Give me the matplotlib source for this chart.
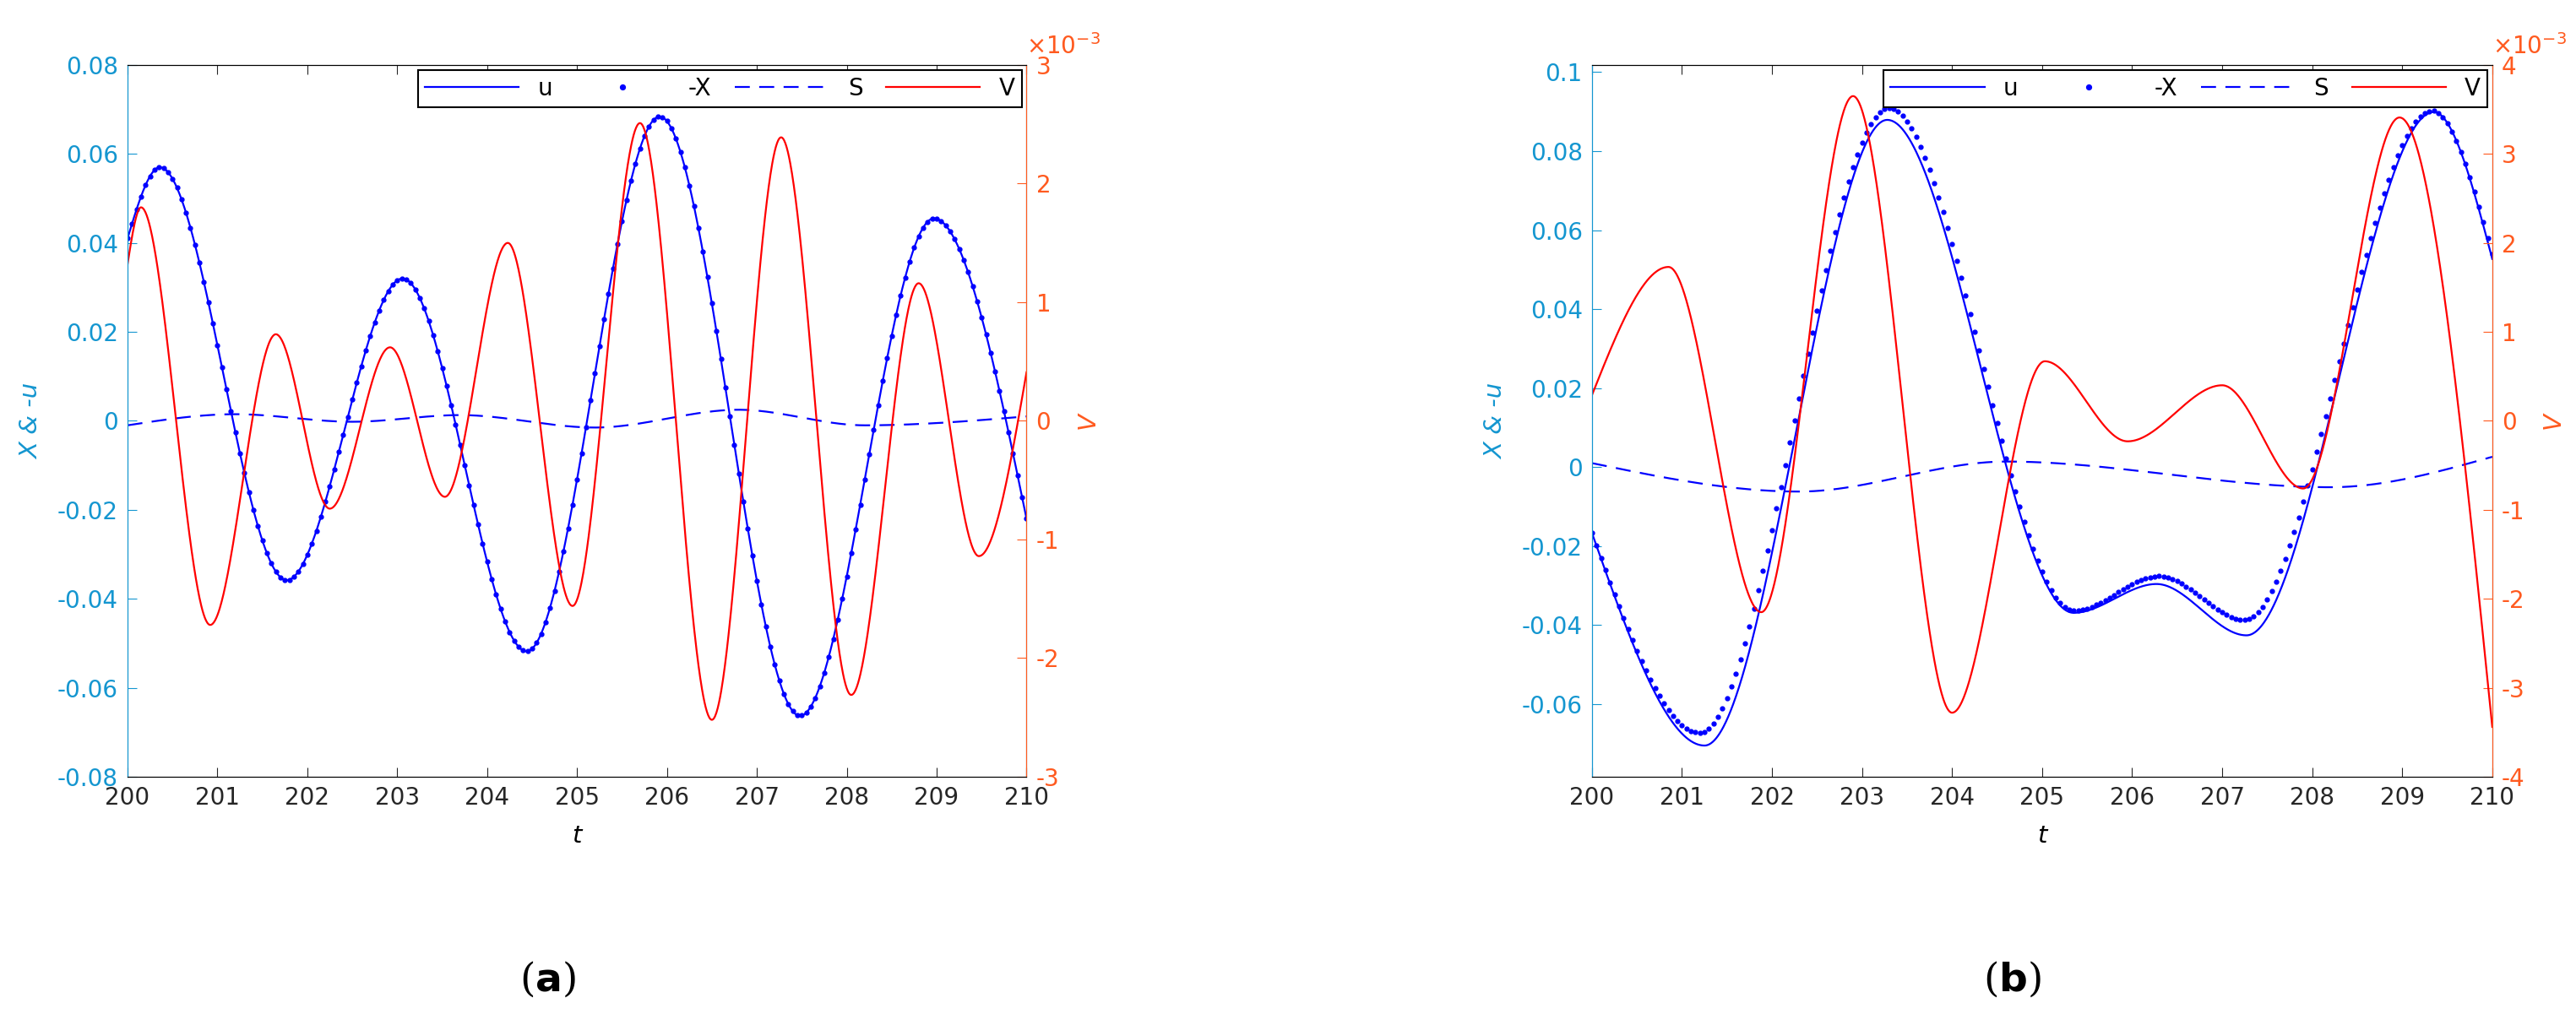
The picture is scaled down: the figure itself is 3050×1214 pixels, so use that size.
import numpy as np
import matplotlib
matplotlib.use("Agg")
import matplotlib.pyplot as plt

plt.rcParams['axes.unicode_minus'] = False

# ---- data: (t, value) key points (extrema / ends) ----
a_u_t = [200, 200.36, 201.77, 203.06, 204.44, 205.92, 207.48, 208.97, 210]
a_u_v = [0.041, 0.057, -0.0358, 0.032, -0.0518, 0.0684, -0.0663, 0.0455, -0.022]
a_x_t = a_u_t
a_x_v = a_u_v
a_s_t = [200, 201.2, 202.5, 203.7, 205.2, 206.8, 208.2, 210]
a_s_v = [-0.001, 0.0015, -0.0002, 0.0013, -0.0015, 0.0025, -0.001, 0.001]
a_v_t = [200, 200.15, 200.92, 201.65, 202.25, 202.92, 203.53, 204.23, 204.95,
         205.7, 206.5, 207.27, 208.05, 208.8, 209.47, 210]
a_v_v = [1.32, 1.8, -1.72, 0.73, -0.74, 0.62, -0.64, 1.5, -1.56,
         2.51, -2.52, 2.39, -2.31, 1.16, -1.14, 0.41]

b_u_t = [200, 201.25, 203.28, 205.35, 206.27, 207.27, 209.35, 210]
b_u_v = [-0.0167, -0.0705, 0.0879, -0.0369, -0.0296, -0.0426, 0.0899, 0.0527]
b_x_t = [200, 201.2, 203.3, 205.35, 206.3, 207.25, 209.33, 210]
b_x_v = [-0.0167, -0.0673, 0.0909, -0.0364, -0.0276, -0.0387, 0.0902, 0.054]
b_s_t = [200, 202.3, 204.6, 208.2, 210]
b_s_v = [0.001, -0.0062, 0.0014, -0.0051, 0.0026]
b_v_t = [200, 200.85, 201.88, 202.9, 204.0, 205.03, 205.95, 207.0, 207.9, 208.97, 210]
b_v_v = [0.29, 1.73, -2.15, 3.65, -3.28, 0.67, -0.23, 0.40, -0.76, 3.41, -3.44]

xticks = list(range(200, 211))
a_yticks = [-0.08, -0.06, -0.04, -0.02, 0, 0.02, 0.04, 0.06, 0.08]
b_yticks = [-0.06, -0.04, -0.02, 0, 0.02, 0.04, 0.06, 0.08, 0.1]

CY = '#1496d0'
OR = '#ff5a1f'


def curve(tk, vk, t):
    """Hermite curve through key points: zero slope at interior extrema."""
    tk = np.asarray(tk, float); vk = np.asarray(vk, float)
    n = len(tk)
    m = np.zeros(n)
    m[0] = 1.5 * (vk[1] - vk[0]) / (tk[1] - tk[0])
    m[-1] = 1.5 * (vk[-1] - vk[-2]) / (tk[-1] - tk[-2])
    for i in range(1, n - 1):
        d0 = vk[i] - vk[i - 1]; d1 = vk[i + 1] - vk[i]
        if d0 * d1 > 0:
            m[i] = 0.5 * (d0 / (tk[i] - tk[i - 1]) + d1 / (tk[i + 1] - tk[i]))
    idx = np.clip(np.searchsorted(tk, t) - 1, 0, n - 2)
    h = tk[idx + 1] - tk[idx]
    s = (t - tk[idx]) / h
    h00 = 2 * s**3 - 3 * s**2 + 1; h10 = s**3 - 2 * s**2 + s
    h01 = -2 * s**3 + 3 * s**2; h11 = s**3 - s**2
    return h00 * vk[idx] + h10 * h * m[idx] + h01 * vk[idx + 1] + h11 * h * m[idx + 1]


fig = plt.figure(figsize=(30.5, 12.14), dpi=100)
FS = 20


def panel(rect, u, x, s, v, ylim, yticks, v_lim, v_ticks, label, lblx):
    ax = fig.add_axes(rect)
    t = np.linspace(200, 210, 1500)
    td = np.arange(200, 210.001, 0.05)
    l1, = ax.plot(t, curve(*u, t), color='#0000ff', lw=1.6, label='u')
    l2, = ax.plot(td, curve(*x, td), ls='none', marker='.', ms=7, color='#0000ff', label='-X')
    l3, = ax.plot(t, curve(*s, t), color='#0000ff', lw=1.6, ls=(0, (8, 5)), label='S')
    ax.set_xlim(200, 210); ax.set_ylim(*ylim)
    ax.set_xticks(xticks); ax.set_yticks(yticks)
    ax.set_yticklabels([('%g' % y) for y in yticks])
    ax.tick_params(direction='in', labelsize=FS, length=8, top=True, pad=8)
    ax.tick_params(axis='y', colors=CY, labelcolor=CY)
    ax.tick_params(axis='x', colors='#262626')
    ax.spines['left'].set_color(CY)
    ax.set_ylabel('X & -u', color=CY, fontsize=FS + 1, style='italic', labelpad=12)
    ax.set_xlabel('t', fontsize=FS + 1, style='italic', labelpad=12)
    ax2 = ax.twinx()
    l4, = ax2.plot(t, curve(*v, t), color='#ff0000', lw=1.6, label='V')
    ax2.set_ylim(*v_lim); ax2.set_yticks(v_ticks)
    ax2.tick_params(direction='in', labelsize=FS, length=8, colors=OR, pad=8)
    ax2.spines['right'].set_color(OR); ax2.spines['left'].set_color(CY)
    ax2.set_ylabel('V', color=OR, fontsize=FS + 1, style='italic', labelpad=14)
    ax2.text(1.0, 1.015, r'$\times10^{-3}$', transform=ax2.transAxes, color=OR, fontsize=FS)
    leg = ax2.legend(handles=[l1, l2, l3, l4], loc='upper right', ncol=4, fontsize=FS,
                     fancybox=False, edgecolor='black', framealpha=1, borderaxespad=0.2,
                     handlelength=4, columnspacing=1.0, markerscale=1.2,
                     borderpad=0.3)
    leg.get_frame().set_linewidth(1.5)
    fig.text(lblx, 0.044, label, fontsize=34, ha='center', va='center',
             fontfamily='DejaVu Serif')
    return ax


panel([0.0495, 0.2422, 0.349, 0.6944], (a_u_t, a_u_v), (a_x_t, a_x_v), (a_s_t, a_s_v),
      (a_v_t, a_v_v), (-0.08, 0.08), a_yticks, (-3, 3), list(range(-3, 4)),
      r'($\mathbf{a}$)', 0.2125)
panel([0.618, 0.2422, 0.3495, 0.6944], (b_u_t, b_u_v), (b_x_t, b_x_v), (b_s_t, b_s_v),
      (b_v_t, b_v_v), (-0.0784, 0.1018), b_yticks, (-4, 4), list(range(-4, 5)),
      r'($\mathbf{b}$)', 0.781)

fig.savefig('out.png', dpi=100)
